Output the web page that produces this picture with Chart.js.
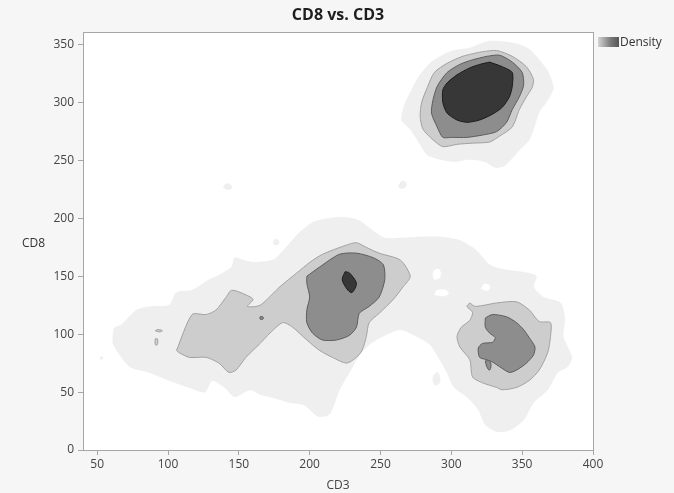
<!DOCTYPE html>
<html>
<head>
<meta charset="utf-8">
<script src="https://cdn.jsdelivr.net/npm/chart.js@4/dist/chart.umd.min.js"></script>
<style>
  html, body { margin: 0; padding: 0; background: #f6f6f6; }
  #wrap { position: relative; width: 674px; height: 493px; }
  #densityChart { position: absolute; left: 0; top: 0; }
  .lbl { position: absolute; font-family: 'Open Sans', sans-serif; font-size: 12px; color: #333; }
  #title { position: absolute; left: 238px; width: 200px; top: 3px; text-align: center;
    font-family: 'Open Sans', sans-serif; font-size: 16px; font-weight: bold; color: #1e1e1e; }
  #swatch { position: absolute; left: 598px; top: 37px; width: 21px; height: 10px;
    background: linear-gradient(to right, #d4d4d4, #7a7a7a 60%, #555); }
</style>
</head>
<body>
<div id="wrap">
  <canvas id="densityChart" width="674" height="493"></canvas>
  <div id="title">CD8 vs. CD3</div>
  <div class="lbl" style="left:22px; top:234px;">CD8</div>
  <div id="swatch"></div>
  <div class="lbl" style="left:620px; top:33px;">Density</div>
</div>
<script>
const xTicks = [50, 100, 150, 200, 250, 300, 350, 400];
const yTicks = [0, 50, 100, 150, 200, 250, 300, 350];

// contour outlines, CD3 (x) / CD8 (y) pairs
const topLevel1 = [[313,347],[327,353],[345,351],[355,346],[362,337],[368,327],[372,313],[368,302],[362,292],[359,281],[355,268],[348,259],[338,246],[331,244],[324,249],[313,251],[302,249],[292,251],[283,255],[278,264],[271,277],[265,285],[267,298],[272,311],[278,324],[286,335],[299,344]];
const topLevel2 = [[322,344],[332,345],[343,340],[353,331],[358,320],[357,313],[353,305],[348,294],[343,279],[334,271],[327,266],[315,265],[304,264],[294,262],[287,268],[280,277],[278,288],[279,300],[283,313],[288,326],[297,334],[308,340],[318,343]];
const topLevel3 = [[325,340],[334,341],[343,335],[350,326],[351,315],[348,305],[343,294],[339,283],[332,275],[322,272],[311,270],[300,270],[294,270],[290,279],[286,291],[287,302],[290,314],[297,326],[306,333],[315,337]];
const topLevel4 = [[327,335],[336,331],[343,326],[343,314],[341,305],[336,296],[329,290],[320,285],[311,283],[304,285],[297,291],[294,300],[294,311],[297,317],[304,324],[313,330],[320,333]];

const lowLevel1 = [[61,92],[62,105],[67,108],[78,121],[89,124],[101,125],[106,136],[117,138],[129,147],[136,151],[145,158],[147,166],[153,164],[160,162],[174,164],[182,173],[193,188],[203,197],[214,200],[225,201],[235,198],[244,190],[253,183],[264,183],[278,184],[292,184],[306,181],[317,173],[327,160],[336,156],[353,153],[360,150],[358,141],[365,132],[377,127],[380,114],[379,98],[385,80],[382,72],[375,67],[368,52],[358,41],[351,26],[341,17],[332,16],[324,22],[319,35],[311,46],[302,54],[297,67],[292,78],[285,91],[274,99],[264,104],[253,99],[242,91],[235,82],[228,67],[221,52],[214,31],[206,29],[196,39],[186,41],[175,45],[165,48],[158,52],[147,46],[140,54],[131,60],[126,50],[115,54],[101,60],[87,67],[73,72],[66,82]];
const midLevel2 = [[106,86],[117,117],[127,117],[134,121],[141,132],[145,138],[155,134],[160,130],[156,124],[165,125],[179,141],[191,153],[200,162],[209,169],[226,177],[233,179],[240,175],[249,170],[264,164],[271,150],[266,141],[259,130],[249,118],[242,110],[240,98],[237,86],[233,80],[226,75],[216,80],[207,86],[198,95],[188,106],[181,110],[172,101],[165,92],[155,80],[148,69],[143,67],[136,75],[127,80],[115,80],[108,84]];
const midLevel3 = [[198,150],[207,158],[221,169],[233,170],[245,166],[252,160],[253,147],[249,132],[242,124],[235,118],[233,106],[228,99],[219,95],[209,95],[202,101],[198,110],[198,121],[200,132],[198,144]];
const midLevel4 = [[225,154],[228,153],[233,144],[230,136],[227,138],[223,147]];
const rightLevel2 = [[313,127],[317,124],[332,127],[346,128],[355,121],[362,111],[370,110],[370,98],[368,84],[362,69],[355,60],[346,54],[336,52],[332,54],[322,58],[315,63],[313,78],[306,89],[304,98],[307,106],[313,112],[315,119],[311,124]];
const rightLevel3 = [[324,114],[329,117],[339,115],[346,110],[351,104],[355,97],[359,89],[358,82],[353,75],[346,69],[341,67],[334,72],[329,76],[325,78],[320,80],[319,88],[322,92],[329,93],[331,97],[327,101],[324,106]];
const rightLevel3Tip = [[324,77],[325,72],[327,69],[328,73],[327,77]];

// small islands
const speckLevel1 = [
  [[263,229],[265,232],[268,231],[268,228],[266,226],[263,227]],
  [[139,227],[141,230],[144,229],[145,226],[142,225]],
  [[174,179],[176,182],[178,181],[178,178],[176,177]],
  [[288,56],[287,62],[290,67],[292,62],[291,57]],
  [[52,79],[53,81],[54,80],[53,78]]
];
const holes = [
  [[288,147],[287,152],[289,156],[292,155],[292,149]],
  [[288,134],[290,138],[296,138],[298,135],[294,133]],
  [[321,139],[323,143],[327,142],[326,138]]
];
const speckLevel2 = [
  [[91,103],[93,104],[96,103],[94,102]],
  [[91,96],[92.5,96],[92.5,91],[91,91]]
];
const speckLevel3 = [[[165,113],[165,115],[167,115],[167,113]]];

const levels = {
  1: { fill: '#efefef', border: '#ebebeb', width: 0.5, order: 10 },
  hole: { fill: '#ffffff', border: '#ffffff', width: 0.5, order: 9 },
  2: { fill: '#cdcdcd', border: '#a2a2a2', width: 1, order: 8 },
  3: { fill: '#8d8d8d', border: '#5c5c5c', width: 1, order: 7 },
  4: { fill: '#373737', border: '#1c1c1c', width: 1, order: 6 },
};

function contour(points, level, tension = 0.25) {
  const style = levels[level];
  const closed = points.concat([points[0]]);
  return {
    data: closed.map((p) => ({ x: p[0], y: p[1] })),
    backgroundColor: style.fill,
    borderColor: style.border,
    borderWidth: style.width,
    fill: 'shape',
    tension,
    pointRadius: 0,
    order: style.order,
  };
}

const datasets = [
  contour(topLevel1, 1), contour(lowLevel1, 1),
  ...speckLevel1.map((p) => contour(p, 1, 0.4)),
  ...holes.map((p) => contour(p, 'hole', 0.4)),
  contour(topLevel2, 2), contour(midLevel2, 2), contour(rightLevel2, 2),
  ...speckLevel2.map((p) => contour(p, 2, 0.4)),
  contour(topLevel3, 3), contour(midLevel3, 3), contour(rightLevel3, 3), contour(rightLevel3Tip, 3, 0.4),
  ...speckLevel3.map((p) => contour(p, 3, 0.4)),
  contour(topLevel4, 4), contour(midLevel4, 4, 0.3),
];

const plotFrame = {
  id: 'plotFrame',
  beforeDraw(chart) {
    const { ctx, chartArea: a } = chart;
    ctx.save();
    ctx.fillStyle = '#ffffff';
    ctx.fillRect(a.left, a.top, a.right - a.left, a.bottom - a.top);
    ctx.restore();
  },
  afterDraw(chart) {
    const { ctx, chartArea: a } = chart;
    ctx.save();
    ctx.strokeStyle = '#a6a6a6';
    ctx.lineWidth = 1;
    ctx.strokeRect(Math.round(a.left) + 0.5, Math.round(a.top) + 0.5,
      Math.round(a.right - a.left), Math.round(a.bottom - a.top));
    ctx.restore();
  },
};

const tickFont = { family: "'Open Sans', sans-serif", size: 12 };

new Chart(document.getElementById('densityChart'), {
  type: 'line',
  data: { datasets },
  plugins: [plotFrame],
  options: {
    responsive: false,
    animation: false,
    events: [],
    layout: { padding: { left: 0, right: 81, top: 32, bottom: 0 } },
    plugins: {
      legend: { display: false },
      tooltip: { enabled: false },
      title: { display: false },
    },
    scales: {
      x: {
        type: 'linear',
        min: 40,
        max: 400,
        afterBuildTicks: (axis) => { axis.ticks = xTicks.map((v) => ({ value: v })); },
        afterFit: (axis) => { axis.height = 43; },
        ticks: { color: '#444', font: tickFont, padding: 2, maxRotation: 0 },
        grid: { drawOnChartArea: false, drawTicks: true, tickLength: 5, color: '#a6a6a6' },
        border: { color: '#a6a6a6' },
        title: { display: true, text: 'CD3', color: '#444', font: tickFont, padding: { top: 0, bottom: 0 } },
      },
      y: {
        min: 0,
        max: 361,
        afterBuildTicks: (axis) => { axis.ticks = yTicks.map((v) => ({ value: v })); },
        afterFit: (axis) => { axis.width = 83; },
        ticks: { color: '#444', font: tickFont, padding: 4 },
        grid: { drawOnChartArea: false, drawTicks: true, tickLength: 5, color: '#a6a6a6' },
        border: { color: '#a6a6a6' },
      },
    },
  },
});
</script>
</body>
</html>
